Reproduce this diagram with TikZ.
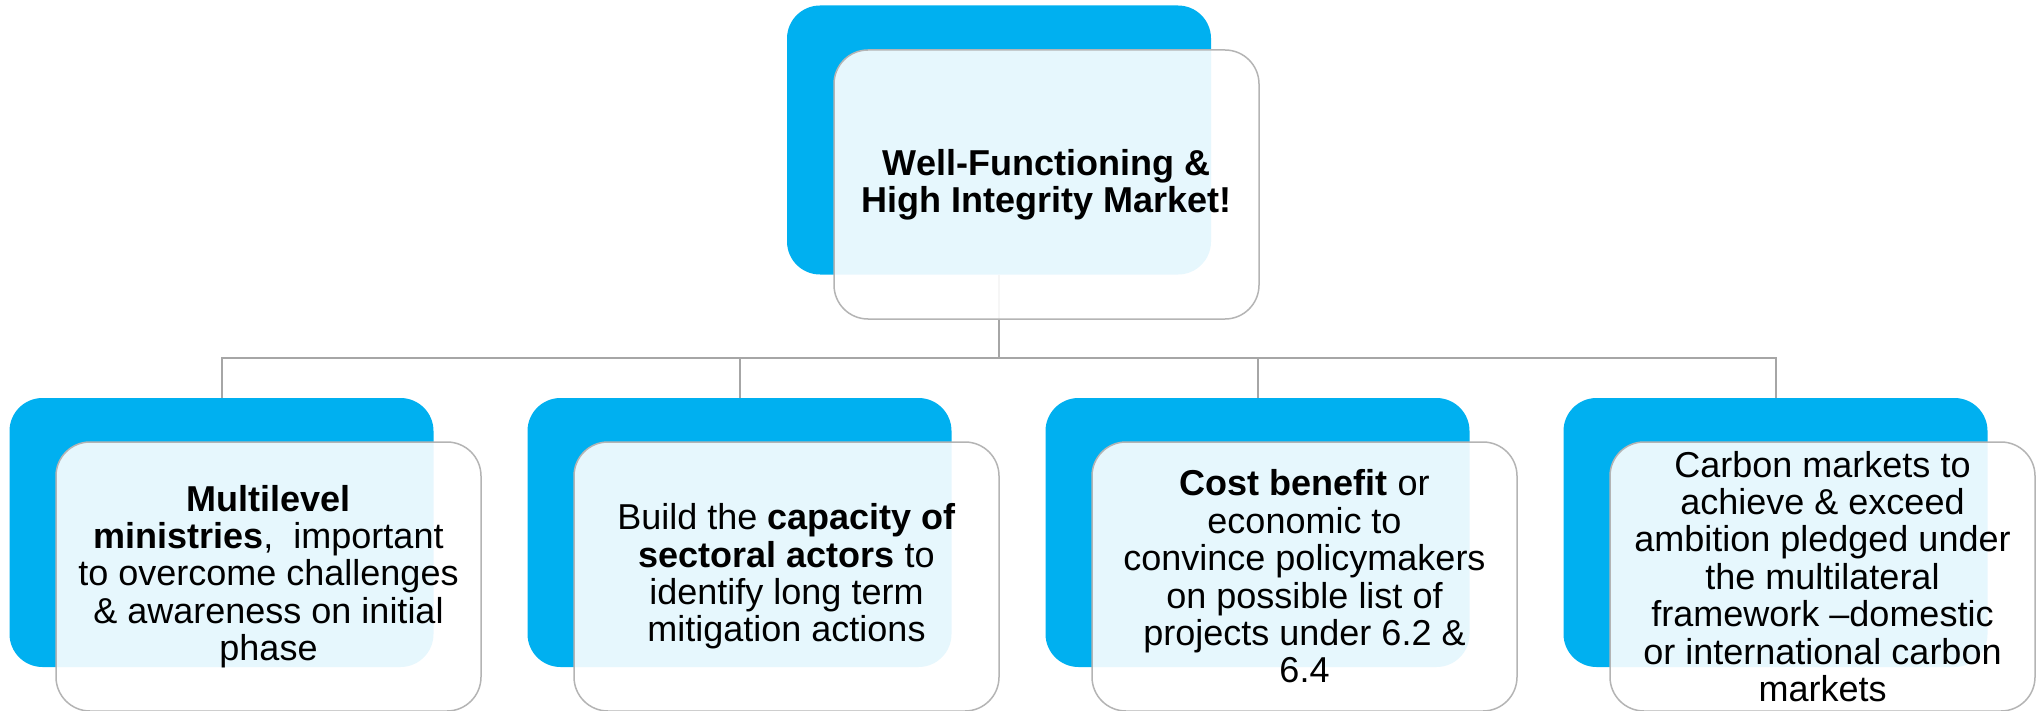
\documentclass[tikz,border=0pt]{standalone}
\usepackage{fontspec}
\setmainfont{Liberation Sans}
\definecolor{bluebox}{HTML}{00B0F0}
\definecolor{edgegray}{HTML}{B4B4B4}
\definecolor{conngray}{HTML}{A6A6A6}
\tikzset{
  backbox/.style={rectangle, rounded corners=16.5pt, fill=bluebox, draw=none,
    minimum width=212pt, minimum height=134.5pt, inner sep=0pt},
  frontbox/.style={rectangle, rounded corners=17pt, fill=white, fill opacity=0.9,
    text opacity=1, draw=edgegray, line width=0.75pt,
    minimum width=212.5pt, minimum height=134.5pt, inner sep=0pt,
    align=center, font=\fontsize{18}{18.7}\selectfont},
  conn/.style={draw=conngray, line width=1pt}
}
\begin{document}
\begin{tikzpicture}[x=0.5pt, y=-0.5pt]
\useasboundingbox (0,0) rectangle (2044,711);
% back boxes
\node[backbox] (tb) at (999,140) {};
\node[backbox] (b1) at (221.5,532.5) {};
\node[backbox] (b2) at (739.5,532.5) {};
\node[backbox] (b3) at (1257.5,532.5) {};
\node[backbox] (b4) at (1775.5,532.5) {};
% connectors
\draw[conn] (tb.south) -- ++(0,83) -| (b1.north);
\draw[conn] (tb.south) -- ++(0,83) -| (b2.north);
\draw[conn] (tb.south) -- ++(0,83) -| (b3.north);
\draw[conn] (tb.south) -- ++(0,83) -| (b4.north);
% front boxes
\node[frontbox] (tf) at (1046.5,184.5) {\textbf{Well-Functioning \&}\\\textbf{High Integrity Market!}};
\node[frontbox] (f1) at (268.5,576.5) {\textbf{Multilevel}\\\textbf{ministries},\ \ important\\to overcome challenges\\\& awareness on initial\\phase};
\node[frontbox] (f2) at (786.5,576.5) {Build the \textbf{capacity of}\\\textbf{sectoral actors} to\\identify long term\\mitigation actions};
\node[frontbox] (f3) at (1304.5,576.5) {\textbf{Cost benefit} or\\economic to\\convince policymakers\\on possible list of\\projects under 6.2 \&\\6.4};
\node[frontbox] (f4) at (1822.5,576.5) {Carbon markets to\\achieve \& exceed\\ambition pledged under\\the multilateral\\framework –domestic\\or international carbon\\markets};
\end{tikzpicture}
\end{document}
